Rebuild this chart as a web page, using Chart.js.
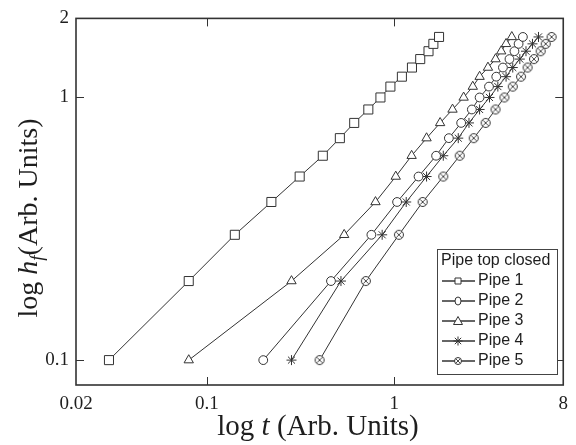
<!DOCTYPE html>
<html>
<head>
<meta charset="utf-8">
<script src="https://cdn.jsdelivr.net/npm/chart.js@4.4.1/dist/chart.umd.min.js"></script>
<style>
  html, body { margin: 0; padding: 0; background: #fff; }
  #wrap { width: 576px; height: 445px; }
</style>
</head>
<body>
<div id="wrap"><canvas id="pipeChart" width="576" height="445"></canvas></div>
<script>
// head values h_f, shared by every pipe
const headValues = [0.1, 0.2, 0.3, 0.4, 0.5, 0.6, 0.7, 0.8, 0.9, 1.0, 1.1, 1.2, 1.3, 1.4, 1.5, 1.6, 1.7];

// time t for each pipe
const pipe1Times = [0.030, 0.080, 0.141, 0.221, 0.313, 0.416, 0.513, 0.612, 0.728, 0.845, 0.955, 1.10, 1.245, 1.378, 1.526, 1.62, 1.737];
const pipe2Times = [0.20, 0.46, 0.756, 1.037, 1.35, 1.675, 1.96, 2.28, 2.60, 2.86, 3.21, 3.51, 3.81, 4.13, 4.39, 4.62, 4.87];
const pipe3Times = [0.080, 0.283, 0.541, 0.795, 1.02, 1.24, 1.49, 1.76, 2.05, 2.35, 2.63, 2.86, 3.17, 3.48, 3.73, 3.96, 4.25];
const pipe4Times = [0.283, 0.52, 0.863, 1.16, 1.49, 1.83, 2.20, 2.51, 2.86, 3.23, 3.58, 3.96, 4.30, 4.69, 5.06, 5.48, 5.90];
const pipe5Times = [0.40, 0.706, 1.06, 1.42, 1.83, 2.24, 2.66, 3.08, 3.48, 3.88, 4.30, 4.76, 5.16, 5.58, 6.06, 6.45, 6.93];

const pipeNames = ['Pipe 1', 'Pipe 2', 'Pipe 3', 'Pipe 4', 'Pipe 5'];
const legendTitle = 'Pipe top closed';

// axis ticks
const xTickValues = [0.02, 0.1, 1, 8];
const xTickLabels = ['0.02', '0.1', '1', '8'];
const yTickValues = [0.1, 1, 2];
const yTickLabels = ['0.1', '1', '2'];
const innerTicksX = [0.1, 1];
const innerTicksY = [0.1, 1];

const INK = '#333333';
const TEXT = '#1e1e1e';

// circle with a cross for pipe 5
function makeCrossCircle(r) {
    const s = Math.ceil(r * 2 + 3);
    const c = document.createElement('canvas');
    c.width = s; c.height = s;
    const g = c.getContext('2d');
    const m = s / 2;
    g.fillStyle = '#fff';
    g.strokeStyle = INK;
    g.lineWidth = 1;
    g.beginPath();
    g.arc(m, m, r, 0, Math.PI * 2);
    g.fill();
    g.stroke();
    const d = r * 0.6;
    g.lineWidth = 0.9;
    g.beginPath();
    g.moveTo(m - d, m - d); g.lineTo(m + d, m + d);
    g.moveTo(m + d, m - d); g.lineTo(m - d, m + d);
    g.stroke();
    return c;
}

const crossCircle = makeCrossCircle(4.5);
const crossCircleSmall = makeCrossCircle(3.5);

const pipeTimes = [pipe1Times, pipe2Times, pipe3Times, pipe4Times, pipe5Times];
const pipeStyles = ['rect', 'circle', 'triangle', 'star', crossCircle];
const pipeRadius = [6.4, 4.4, 5.4, 5, 4.5];

function toPoints(times) {
    return times.map((t, i) => ({ x: t, y: headValues[i] }));
}

// small marker drawer for the legend
function drawMarker(ctx, style, x, y) {
    ctx.save();
    ctx.fillStyle = '#fff';
    ctx.strokeStyle = INK;
    ctx.lineWidth = 1;
    ctx.beginPath();
    if (style === 'rect') {
        ctx.rect(x - 3, y - 3, 6, 6);
        ctx.fill(); ctx.stroke();
    } else if (style === 'circle') {
        ctx.ellipse(x, y, 3, 4, 0, 0, Math.PI * 2);
        ctx.fill(); ctx.stroke();
    } else if (style === 'triangle') {
        ctx.moveTo(x, y - 4.5);
        ctx.lineTo(x + 4.5, y + 3.5);
        ctx.lineTo(x - 4.5, y + 3.5);
        ctx.closePath();
        ctx.fill(); ctx.stroke();
    } else if (style === 'star') {
        const r = 4.5;
        for (let k = 0; k < 4; k++) {
            const a = k * Math.PI / 4;
            ctx.moveTo(x - Math.cos(a) * r, y - Math.sin(a) * r);
            ctx.lineTo(x + Math.cos(a) * r, y + Math.sin(a) * r);
        }
        ctx.stroke();
    } else {
        ctx.drawImage(crossCircleSmall, x - crossCircleSmall.width / 2, y - crossCircleSmall.height / 2);
    }
    ctx.restore();
}

function drawSegments(ctx, parts, startX, baseY) {
    let x = startX;
    parts.forEach(p => {
        ctx.font = p.font;
        ctx.fillText(p.text, x, baseY + (p.dy || 0));
        x += ctx.measureText(p.text).width;
    });
}

function partsWidth(ctx, parts) {
    let w = 0;
    parts.forEach(p => { ctx.font = p.font; w += ctx.measureText(p.text).width; });
    return w;
}

// frame, inner ticks, axis titles and legend
const decorPlugin = {
    id: 'decor',
    afterDraw(chart) {
        const ctx = chart.ctx;
        const area = chart.chartArea;
        const xs = chart.scales.x;
        const ys = chart.scales.y;
        ctx.save();

        ctx.strokeStyle = INK;
        ctx.lineWidth = 1.6;
        ctx.strokeRect(area.left, area.top, area.right - area.left, area.bottom - area.top);

        ctx.lineWidth = 1;
        ctx.beginPath();
        innerTicksX.forEach(v => {
            const px = Math.round(xs.getPixelForValue(v)) + 0.5;
            ctx.moveTo(px, area.bottom); ctx.lineTo(px, area.bottom - 8);
            ctx.moveTo(px, area.top); ctx.lineTo(px, area.top + 8);
        });
        innerTicksY.forEach(v => {
            const py = Math.round(ys.getPixelForValue(v)) + 0.5;
            ctx.moveTo(area.left, py); ctx.lineTo(area.left + 8, py);
            ctx.moveTo(area.right, py); ctx.lineTo(area.right - 8, py);
        });
        ctx.stroke();

        // axis titles
        ctx.fillStyle = TEXT;
        ctx.textBaseline = 'alphabetic';
        ctx.textAlign = 'left';
        const xParts = [
            { text: 'log ', font: '29px "Liberation Serif"' },
            { text: 't', font: 'italic 29px "Liberation Serif"' },
            { text: ' (Arb. Units)', font: '29px "Liberation Serif"' }
        ];
        const xw = partsWidth(ctx, xParts);
        drawSegments(ctx, xParts, 318 - xw / 2, 435);

        const yParts = [
            { text: 'log ', font: '28px "Liberation Serif"' },
            { text: 'h', font: 'italic 28px "Liberation Serif"' },
            { text: 'f', font: 'italic 19px "Liberation Serif"', dy: 6 },
            { text: '(Arb. Units)', font: '28px "Liberation Serif"' }
        ];
        const yw = partsWidth(ctx, yParts);
        ctx.save();
        ctx.translate(37, 218);
        ctx.rotate(-Math.PI / 2);
        drawSegments(ctx, yParts, -yw / 2, 0);
        ctx.restore();

        // legend box
        const lx = 437, ly = 249, lw = 120, lh = 125;
        ctx.fillStyle = '#fff';
        ctx.fillRect(lx, ly, lw, lh);
        ctx.strokeStyle = '#444';
        ctx.lineWidth = 1;
        ctx.strokeRect(lx + 0.5, ly + 0.5, lw, lh);
        ctx.fillStyle = TEXT;
        ctx.font = '16px "Liberation Sans"';
        ctx.textBaseline = 'middle';
        ctx.fillText(legendTitle, lx + 4, ly + 12);
        pipeNames.forEach((name, i) => {
            const ey = ly + 32 + i * 20;
            ctx.strokeStyle = INK;
            ctx.lineWidth = 1.4;
            ctx.beginPath();
            ctx.moveTo(lx + 5, ey); ctx.lineTo(lx + 38, ey);
            ctx.stroke();
            drawMarker(ctx, pipeStyles[i], lx + 21, ey);
            ctx.fillStyle = TEXT;
            ctx.font = '16px "Liberation Sans"';
            ctx.fillText(name, lx + 41, ey);
        });

        ctx.restore();
    }
};

const datasets = pipeTimes.map((times, i) => ({
    label: pipeNames[i],
    data: toPoints(times),
    showLine: true,
    borderColor: INK,
    borderWidth: 1,
    pointStyle: pipeStyles[i],
    pointRadius: pipeRadius[i],
    pointHoverRadius: pipeRadius[i],
    pointBorderColor: INK,
    pointBackgroundColor: '#fff',
    pointBorderWidth: 1,
    tension: 0
}));

const tickFont = { family: 'Liberation Serif', size: 19 };

new Chart(document.getElementById('pipeChart'), {
    type: 'scatter',
    data: { datasets },
    options: {
        responsive: false,
        animation: false,
        devicePixelRatio: 1,
        layout: { padding: { top: 16, right: 8, left: 0, bottom: 0 } },
        plugins: {
            legend: { display: false },
            tooltip: { enabled: false }
        },
        scales: {
            x: {
                type: 'logarithmic',
                min: 0.02,
                max: 8,
                grid: { display: false, drawTicks: false },
                border: { display: false },
                afterBuildTicks: (scale) => { scale.ticks = xTickValues.map(v => ({ value: v })); },
                afterFit: (scale) => { scale.height = 60; },
                ticks: {
                    font: tickFont,
                    color: TEXT,
                    padding: 8,
                    autoSkip: false,
                    maxRotation: 0,
                    callback: (v, i) => xTickLabels[i]
                }
            },
            y: {
                type: 'logarithmic',
                min: 0.0804,
                max: 2,
                grid: { display: false, drawTicks: false },
                border: { display: false },
                afterBuildTicks: (scale) => { scale.ticks = yTickValues.map(v => ({ value: v })); },
                afterFit: (scale) => { scale.width = 76; },
                ticks: {
                    font: tickFont,
                    color: TEXT,
                    padding: 7,
                    autoSkip: false,
                    callback: (v, i) => yTickLabels[i]
                }
            }
        }
    },
    plugins: [decorPlugin]
});
</script>
</body>
</html>
